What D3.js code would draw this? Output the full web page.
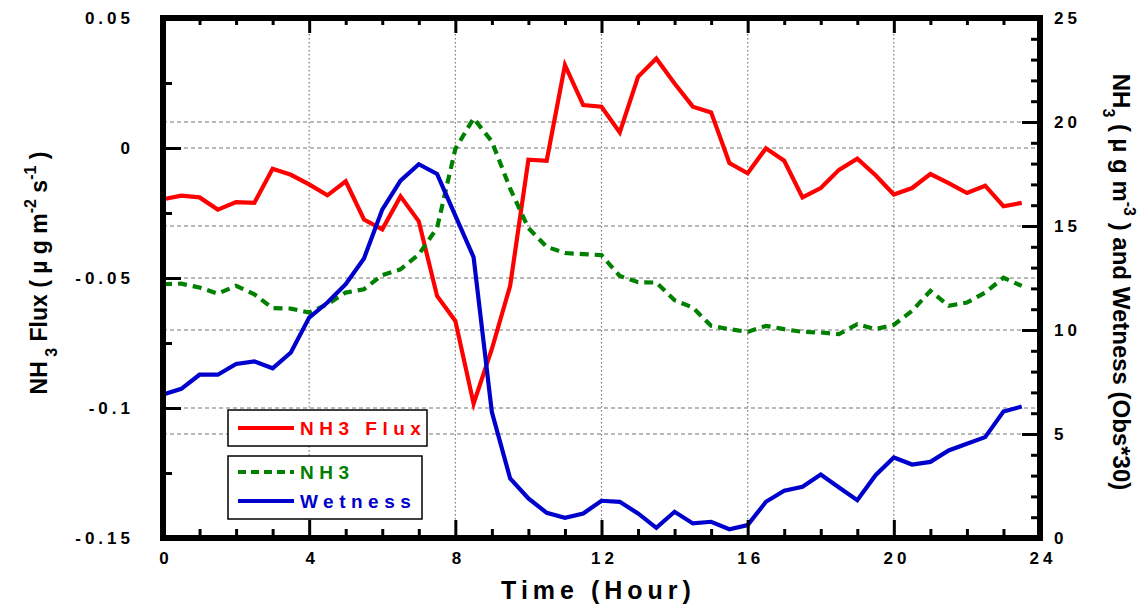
<!DOCTYPE html>
<html>
<head>
<meta charset="utf-8">
<script src="https://cdn.jsdelivr.net/npm/d3@7"></script>
<style>
  body { margin: 0; background: #fff; }
  svg { display: block; font-family: "Liberation Sans", Arial, sans-serif; }
</style>
</head>
<body>
<div id="chart"></div>
<script>
// NH3 flux, NH3 concentration and wetness over the day

const hours = [0, 0.5, 1, 1.5, 2, 2.5, 3, 3.5, 4, 4.5, 5, 5.5, 6, 6.5, 7, 7.5, 8, 8.5, 9, 9.5,
  10, 10.5, 11, 11.5, 12, 12.5, 13, 13.5, 14, 14.5, 15, 15.5, 16, 16.5, 17, 17.5, 18, 18.5, 19, 19.5,
  20, 20.5, 21, 21.5, 22, 22.5, 23, 23.5];

const flux = [-0.0197, -0.0183, -0.019, -0.0237, -0.0208, -0.0211, -0.008, -0.0103, -0.014, -0.0182,
  -0.0128, -0.0275, -0.0313, -0.0186, -0.0282, -0.0569, -0.0665, -0.0983, -0.0773, -0.053,
  -0.0045, -0.0049, 0.0319, 0.0165, 0.0159, 0.006, 0.0274, 0.0344, 0.0248, 0.0159,
  0.0137, -0.0058, -0.0097, -0.0001, -0.0049, -0.019, -0.0154, -0.0084, -0.0041, -0.0105,
  -0.0179, -0.0154, -0.01, -0.0135, -0.0173, -0.0145, -0.0224, -0.0211];

const nh3 = [12.2, 12.23, 12.04, 11.75, 12.12, 11.72, 11.05, 11.03, 10.84, 11.24,
  11.8, 11.96, 12.64, 12.92, 13.63, 14.91, 18.7, 20.18, 19.06, 16.8,
  14.9, 14.0, 13.7, 13.65, 13.6, 12.6, 12.3, 12.28, 11.43, 11.08,
  10.2, 10.04, 9.91, 10.2, 10.04, 9.91, 9.88, 9.8, 10.28, 10.04,
  10.25, 10.92, 11.88, 11.16, 11.32, 11.8, 12.51, 12.12];

const wetness = [6.9, 7.17, 7.85, 7.85, 8.37, 8.49, 8.16, 8.92, 10.6, 11.32,
  12.2, 13.44, 15.79, 17.18, 17.97, 17.5, 15.5, 13.5, 6.05, 2.86,
  1.9, 1.21, 0.97, 1.18, 1.79, 1.74, 1.18, 0.49, 1.26, 0.7,
  0.78, 0.42, 0.62, 1.74, 2.27, 2.46, 3.05, 2.43, 1.82, 3.02,
  3.87, 3.53, 3.66, 4.21, 4.53, 4.85, 6.08, 6.32];

// tick values
const xMajor = [0, 4, 8, 12, 16, 20, 24];
const xMinor = [1, 2, 3, 5, 6, 7, 9, 10, 11, 13, 14, 15, 17, 18, 19, 21, 22, 23];
const leftMajor = [-0.15, -0.1, -0.05, 0, 0.05];
const leftMinor = [-0.125, -0.075, -0.025, 0.025];
const rightMajor = [0, 5, 10, 15, 20, 25];
const rightMinor = [1, 2, 3, 4, 6, 7, 8, 9, 11, 12, 13, 14, 16, 17, 18, 19, 21, 22, 23, 24];

const legendItems = [
  { label: "NH3 Flux", color: "#ff0000", dash: null },
  { label: "NH3", color: "#008000", dash: "9,6" },
  { label: "Wetness", color: "#0000cc", dash: null }
];

const width = 1148, height = 609;
const margin = { top: 18, right: 108, bottom: 71, left: 163 };
const innerWidth = width - margin.left - margin.right;
const innerHeight = height - margin.top - margin.bottom;

const svg = d3.select("#chart").append("svg")
  .attr("width", width)
  .attr("height", height);

const g = svg.append("g")
  .attr("transform", `translate(${margin.left},${margin.top})`);

// Scales
const x = d3.scaleLinear().domain([0, 24]).range([0, innerWidth]);
const yL = d3.scaleLinear().domain([-0.15, 0.05]).range([innerHeight, 0]);
const yR = d3.scaleLinear().domain([0, 25]).range([innerHeight, 0]);

// Grid lines
const grid = g.append("g").attr("fill", "none");
grid.selectAll(".vgrid")
  .data(xMajor.slice(1, -1))
  .enter().append("line")
  .attr("x1", d => x(d)).attr("x2", d => x(d))
  .attr("y1", 0).attr("y2", innerHeight)
  .attr("stroke", "#777").attr("stroke-width", 1.2)
  .attr("stroke-dasharray", "1.5,2.5");

grid.selectAll(".hgridL")
  .data(leftMajor.slice(1, -1))
  .enter().append("line")
  .attr("x1", 0).attr("x2", innerWidth)
  .attr("y1", d => yL(d)).attr("y2", d => yL(d))
  .attr("stroke", "#777").attr("stroke-width", 1.2)
  .attr("stroke-dasharray", "4,3");

grid.selectAll(".hgridR")
  .data(rightMajor.slice(1, -1))
  .enter().append("line")
  .attr("x1", 0).attr("x2", innerWidth)
  .attr("y1", d => yR(d)).attr("y2", d => yR(d))
  .attr("stroke", "#777").attr("stroke-width", 1.2)
  .attr("stroke-dasharray", "4,3");

// Lines
const lineFlux = d3.line().x((d, i) => x(hours[i])).y(d => yL(d));
const lineR = d3.line().x((d, i) => x(hours[i])).y(d => yR(d));

g.append("path").datum(flux)
  .attr("d", lineFlux)
  .attr("fill", "none").attr("stroke", legendItems[0].color)
  .attr("stroke-width", 4.2);

g.append("path").datum(nh3)
  .attr("d", lineR)
  .attr("fill", "none").attr("stroke", legendItems[1].color)
  .attr("stroke-width", 4.2).attr("stroke-dasharray", legendItems[1].dash);

g.append("path").datum(wetness)
  .attr("d", lineR)
  .attr("fill", "none").attr("stroke", legendItems[2].color)
  .attr("stroke-width", 4.2);

// Axes (ticks point inward)
function styleAxis(sel) {
  sel.select(".domain").remove();
  sel.selectAll(".tick line").attr("stroke", "#000").attr("stroke-width", 3);
  sel.selectAll(".tick text")
    .attr("fill", "#000")
    .style("font-size", "17px")
    .style("font-weight", "bold")
    .style("letter-spacing", "4px");
}
// minor ticks carry no labels
function minorAxis(sel) {
  sel.select(".domain").remove();
  sel.selectAll(".tick text").remove();
  sel.selectAll(".tick line").attr("stroke", "#000").attr("stroke-width", 3);
}

g.append("g")
  .attr("transform", `translate(0,${innerHeight})`)
  .call(d3.axisBottom(x).tickValues(xMajor).tickSize(-18).tickPadding(14).tickFormat(d3.format("d")))
  .call(styleAxis)
  .call(s => s.selectAll(".tick text").attr("dx", "0.15em"));
g.append("g")
  .attr("transform", `translate(0,${innerHeight})`)
  .call(d3.axisBottom(x).tickValues(xMinor).tickSize(-9))
  .call(minorAxis);

// top ticks
g.append("g")
  .call(d3.axisTop(x).tickValues(xMajor).tickSize(-15))
  .call(minorAxis);
g.append("g")
  .call(d3.axisTop(x).tickValues(xMinor).tickSize(-7))
  .call(minorAxis);

g.append("g")
  .call(d3.axisLeft(yL).tickValues(leftMajor).tickSize(-18).tickPadding(29)
    .tickFormat(d => d === 0 ? "0" : String(+d.toFixed(2))))
  .call(styleAxis);
g.append("g")
  .call(d3.axisLeft(yL).tickValues(leftMinor).tickSize(-9))
  .call(minorAxis);

g.append("g")
  .attr("transform", `translate(${innerWidth},0)`)
  .call(d3.axisRight(yR).tickValues(rightMajor).tickSize(-18).tickPadding(14).tickFormat(d3.format("d")))
  .call(styleAxis);
g.append("g")
  .attr("transform", `translate(${innerWidth},0)`)
  .call(d3.axisRight(yR).tickValues(rightMinor).tickSize(-9))
  .call(minorAxis);

// Frame
g.append("rect")
  .attr("x", 0).attr("y", 0)
  .attr("width", innerWidth).attr("height", innerHeight)
  .attr("fill", "none").attr("stroke", "#000").attr("stroke-width", 6);

// Legend
const legend = svg.append("g");
const boxes = [
  { x: 228, y: 410, w: 199, h: 36 },
  { x: 228, y: 456, w: 194, h: 63 }
];
const rowY = [428, 472, 501];
boxes.forEach(b => {
  legend.append("rect")
    .attr("x", b.x).attr("y", b.y).attr("width", b.w).attr("height", b.h)
    .attr("fill", "#fff").attr("stroke", "#000").attr("stroke-width", 1.5);
});
legendItems.forEach((it, i) => {
  legend.append("line")
    .attr("x1", 238).attr("x2", 294)
    .attr("y1", rowY[i]).attr("y2", rowY[i])
    .attr("stroke", it.color).attr("stroke-width", 4)
    .attr("stroke-dasharray", it.dash ? "8,5" : null);
  legend.append("text")
    .attr("x", 300).attr("y", rowY[i] + 7)
    .attr("fill", it.color)
    .style("font-size", "19px").style("font-weight", "bold")
    .style("letter-spacing", "5.5px")
    .text(it.label);
});

// Axis titles
svg.append("text")
  .attr("x", margin.left + innerWidth / 2 - 3)
  .attr("y", 599)
  .attr("text-anchor", "middle")
  .style("font-size", "25px").style("font-weight", "bold")
  .style("letter-spacing", "5px")
  .text("Time (Hour)");

const lt = svg.append("text")
  .attr("transform", "translate(47,273) rotate(-90)")
  .attr("text-anchor", "middle")
  .style("font-size", "23px").style("font-weight", "bold");
lt.append("tspan").text("NH");
lt.append("tspan").attr("dy", 10).style("font-size", "16px").text(" 3");
lt.append("tspan").attr("dy", -10).text(" Flux ( \u00b5 g m");
lt.append("tspan").attr("dy", -11).style("font-size", "16px").text("-2");
lt.append("tspan").attr("dy", 11).text(" s");
lt.append("tspan").attr("dy", -11).style("font-size", "16px").text("-1");
lt.append("tspan").attr("dy", 11).text(" )");

const rt = svg.append("text")
  .attr("transform", "translate(1113,282) rotate(90)")
  .attr("text-anchor", "middle")
  .style("font-size", "24px").style("font-weight", "bold");
rt.append("tspan").text("NH");
rt.append("tspan").attr("dy", 10).style("font-size", "16px").text("3");
rt.append("tspan").attr("dy", -10).text("  ( \u00b5 g m");
rt.append("tspan").attr("dy", -11).style("font-size", "16px").text("-3");
rt.append("tspan").attr("dy", 11).text(" ) and Wetness (Obs*30)");
</script>
</body>
</html>
